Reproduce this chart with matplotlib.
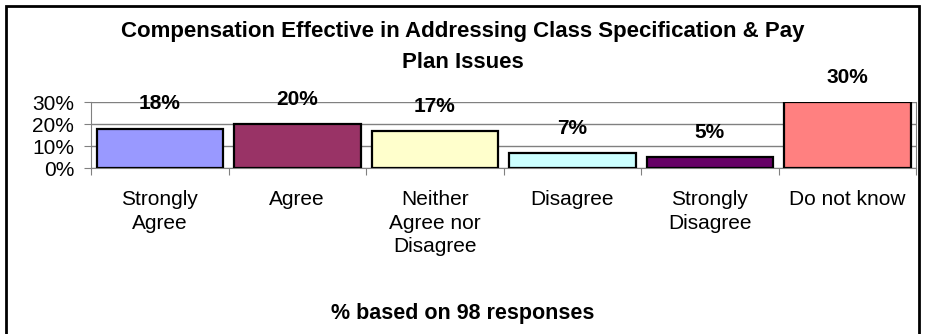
import matplotlib.pyplot as plt
from matplotlib.patches import Rectangle
from matplotlib.ticker import FuncFormatter

plt.rcParams['font.family'] = ['Liberation Sans', 'DejaVu Sans']

categories = ["Strongly\nAgree", "Agree", "Neither\nAgree nor\nDisagree",
              "Disagree", "Strongly\nDisagree", "Do not know"]
values = [18, 20, 17, 7, 5, 30]
colors = ["#9999FF", "#993366", "#FFFFCC", "#CCFFFF", "#660066", "#FF8080"]
yticks = [0, 10, 20, 30]

fig = plt.figure(figsize=(9.25, 3.34), dpi=100)
ax = fig.add_axes([91/925, 1 - 168.5/334, (916 - 91)/925, (168.5 - 102.5)/334])

x = range(len(values))
bars = ax.bar(x, values, width=0.92, color=colors, edgecolor='black', linewidth=1.6, zorder=3)

for b, v in zip(bars, values):
  ax.annotate(f"{v}%", (b.get_x() + b.get_width() / 2, v), xytext=(0, 18),
              textcoords='offset points', ha='center', va='center',
              fontsize=15, fontweight='bold', annotation_clip=False)

ax.set_xlim(-0.5, len(values) - 0.5)
ax.set_ylim(0, 30)
ax.set_yticks(yticks)
ax.yaxis.set_major_formatter(FuncFormatter(lambda v, p: f"{int(v)}%"))
ax.grid(axis='y', color='#808080', linewidth=1, zorder=0)

ax.set_xticks([i - 0.5 for i in range(len(values) + 1)])
ax.set_xticklabels([])
ax.set_xticks(list(x), minor=True)
ax.set_xticklabels(categories, minor=True, fontsize=15, linespacing=1.3, va='top')
ax.tick_params(axis='x', which='minor', length=0, pad=15.5)
ax.tick_params(axis='x', which='major', length=5, color='#808080', direction='out')
ax.tick_params(axis='y', length=5, color='#808080', labelsize=15, pad=7)

ax.spines['top'].set_visible(False)
for s in ['left', 'right', 'bottom']:
  ax.spines[s].set_color('#808080')

fig.text(0.5, 1 - 32/334, "Compensation Effective in Addressing Class Specification & Pay",
         ha='center', va='center', fontsize=16, fontweight='bold')
fig.text(0.5, 1 - 63/334, "Plan Issues", ha='center', va='center', fontsize=16, fontweight='bold')
fig.text(0.5, 1 - 313/334, "% based on 98 responses", ha='center', va='center',
         fontsize=15.5, fontweight='bold')

fig.patches.append(Rectangle((6/925, -0.05), (919 - 6)/925, 1.05 - 6/334, transform=fig.transFigure,
                             fill=False, edgecolor='black', linewidth=2))

fig.savefig("out.png", dpi=100)
